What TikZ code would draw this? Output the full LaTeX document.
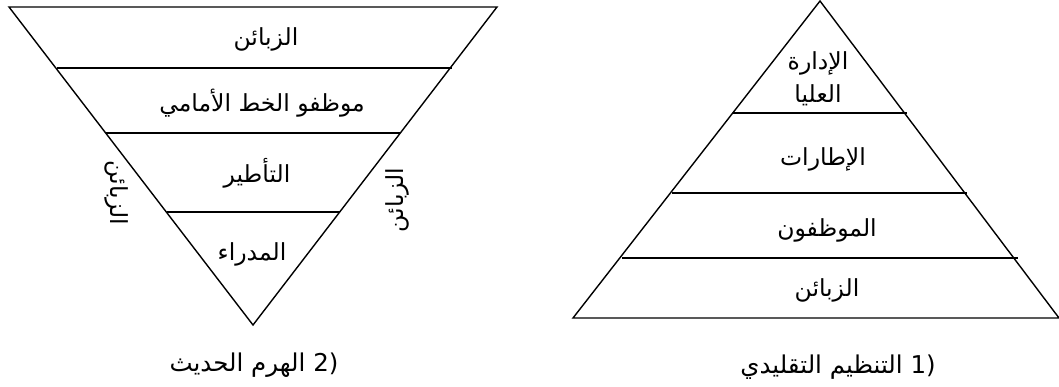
\documentclass[tikz,border=0pt]{standalone}
\usepackage{fontspec}
\newfontfamily\arabicfont[Script=Arabic]{DejaVu Sans}
\TeXXeTstate=1
\begin{document}
\begin{tikzpicture}[x=1pt,y=-1pt,
  edge/.style={line width=1.4pt,line join=miter},
  lbl/.style={font=\arabicfont\fontsize{23.5}{33}\selectfont,inner sep=0pt,align=center},
  captext/.style={font=\arabicfont\fontsize{24.5}{28}\selectfont,inner sep=0pt}]
\useasboundingbox (0,0) rectangle (1059,387);
% inverted pyramid
\coordinate (Ltl) at (9,7);
\coordinate (Ltr) at (497,7);
\coordinate (Lap) at (253,325);
\draw[edge] (Ltl) -- (Ltr) -- (Lap) -- cycle;
\coordinate (L1a) at (57,68);  \coordinate (L1b) at (452,68);
\coordinate (L2a) at (106,133); \coordinate (L2b) at (400,133);
\coordinate (L3a) at (167,212); \coordinate (L3b) at (340,212);
\draw[edge] (L1a) -- (L1b);
\draw[edge] (L2a) -- (L2b);
\draw[edge] (L3a) -- (L3b);
\node[lbl] (m1) at (266,39) {\beginR الزبائن\endR};
\node[lbl] (m2) at (262,103) {\beginR موظفو الخط الأمامي\endR};
\node[lbl] (m3) at (257,173) {\beginR التأطير\endR};
\node[lbl] (m4) at (252,254) {\beginR المدراء\endR};
\node[lbl,rotate=-90] (sl) at (117,193) {\beginR الزبائن\endR};
\node[lbl,rotate=90] (sr) at (397,200) {\beginR الزبائن\endR};
\node[captext] (c2) at (254,365) {\beginR الهرم الحديث\endR\ (2};
% traditional pyramid
\coordinate (Rap) at (820,1);
\coordinate (Rbl) at (573,318);
\coordinate (Rbr) at (1059,318);
\draw[edge] (Rap) -- (Rbr) -- (Rbl) -- cycle;
\coordinate (R1a) at (733,113); \coordinate (R1b) at (907,113);
\coordinate (R2a) at (672,193); \coordinate (R2b) at (967,193);
\coordinate (R3a) at (622,258); \coordinate (R3b) at (1018,258);
\draw[edge] (R1a) -- (R1b);
\draw[edge] (R2a) -- (R2b);
\draw[edge] (R3a) -- (R3b);
\node[lbl] (n1) at (818,79) {\beginR الإدارة\endR\\\beginR العليا\endR};
\node[lbl] (n2) at (823,159) {\beginR الإطارات\endR};
\node[lbl] (n3) at (827,230) {\beginR الموظفون\endR};
\node[lbl] (n4) at (827,290) {\beginR الزبائن\endR};
\node[captext] (c1) at (838,367) {\beginR التنظيم التقليدي\endR\ (1};
\end{tikzpicture}
\end{document}
